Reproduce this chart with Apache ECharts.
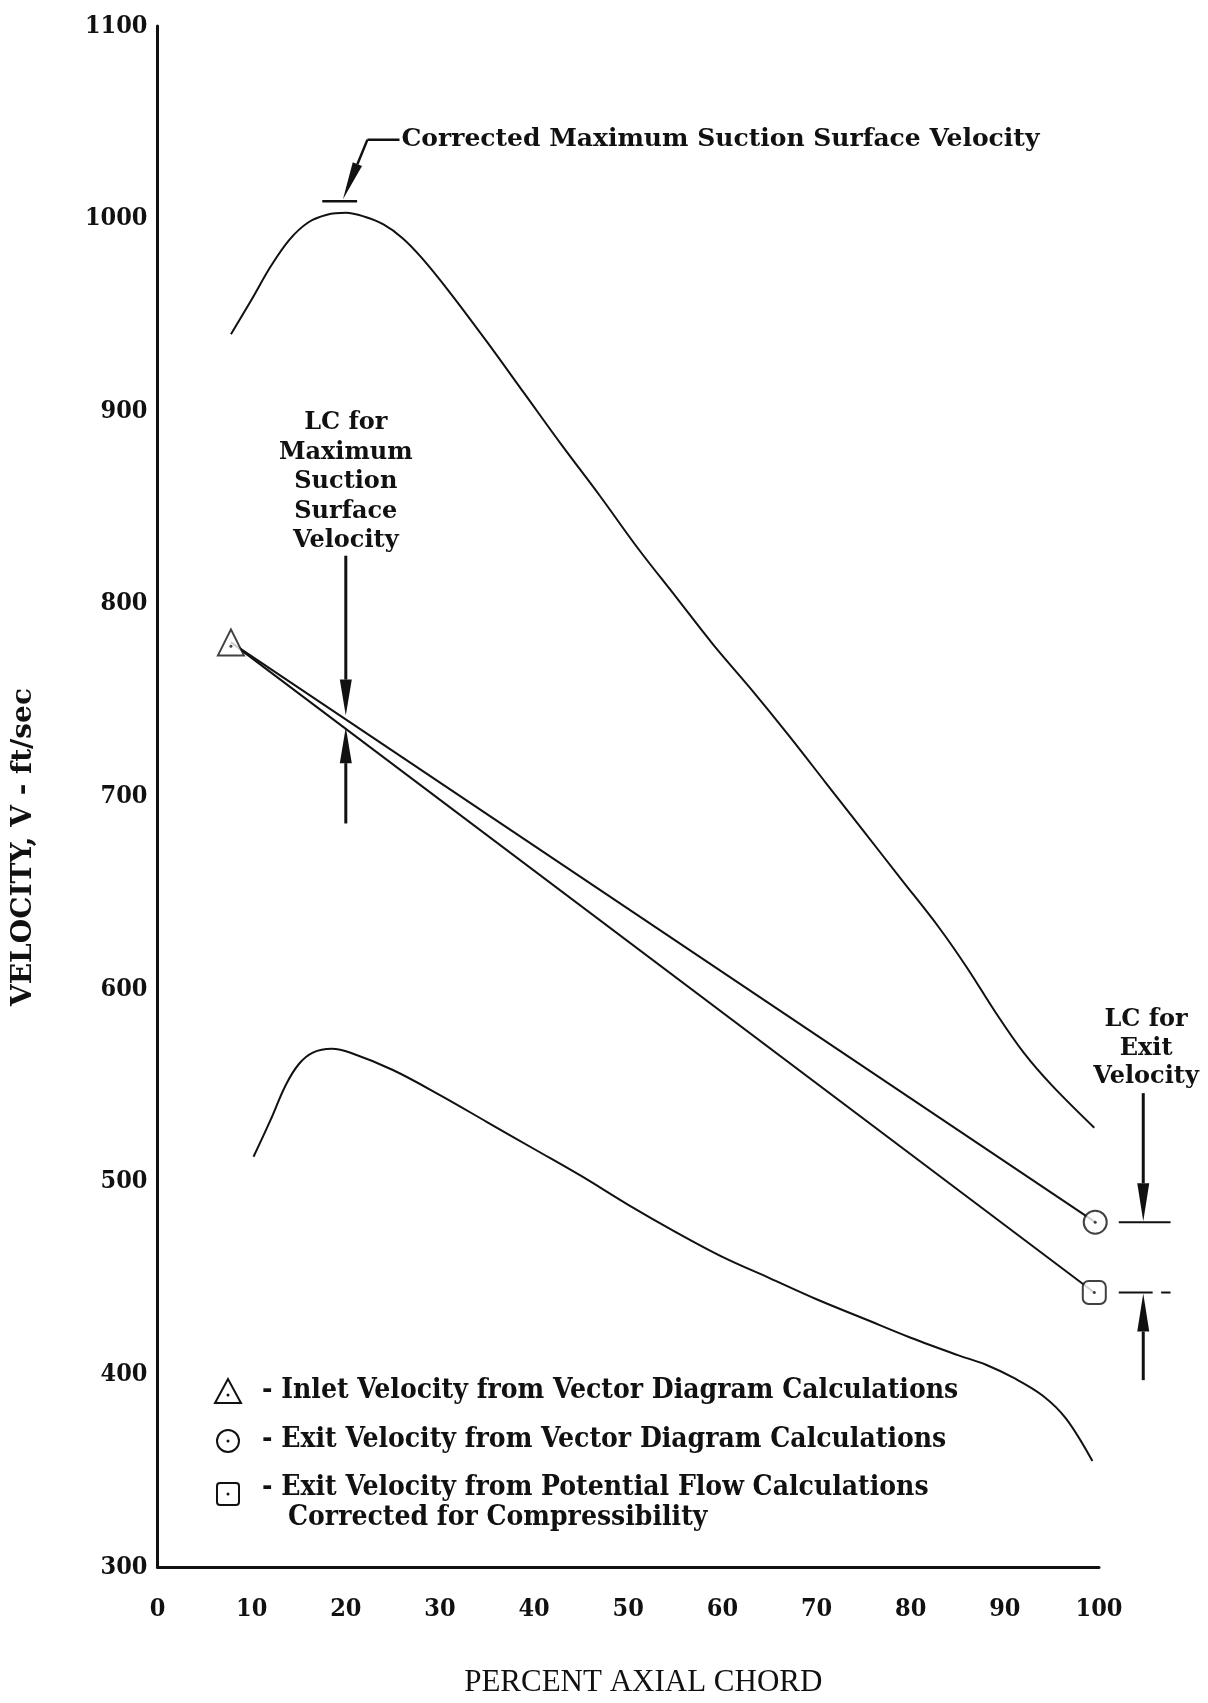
<!DOCTYPE html>
<html>
<head>
<meta charset="utf-8">
<script src="https://cdn.jsdelivr.net/npm/echarts@6/dist/echarts.min.js"></script>
<style>
  html, body { margin: 0; padding: 0; background: #ffffff; }
  #chart { width: 1208px; height: 1703px; }
</style>
</head>
<body>
<div id="chart"></div>
<script>
// Percent axial chord (x) vs. velocity in ft/sec (y)

// Maximum suction surface velocity distribution
const suctionSurface = [
  [7.8, 940], [10, 958], [12, 975], [14, 989], [16, 998], [18, 1002], [20, 1003],
  [22, 1001], [24, 997], [26, 990], [28, 980], [31, 962], [35, 936], [39, 909],
  [43, 882], [47, 856], [51, 829], [55, 804], [59, 779], [63, 756], [67, 732],
  [71, 707], [75, 682], [79, 657], [83, 632], [86, 611], [89, 588], [92, 567],
  [95, 550], [99.5, 528]
];

// Lower velocity distribution
const lowerSurface = [
  [10.2, 513], [12, 532], [13.6, 550], [15, 561], [16.5, 567], [18.5, 569],
  [20.5, 567], [25, 558], [30, 545], [35, 531], [40, 517], [45, 503], [50, 488],
  [55, 474], [60, 461], [65, 450], [70, 439], [75, 429], [80, 419], [85, 410],
  [88, 405], [91, 398], [94, 389], [96.5, 377], [99.3, 355]
];

// Computed points
const inletVector = [7.8, 780];      // inlet velocity, vector diagram
const exitVector = [99.6, 479];      // exit velocity, vector diagram
const exitPotential = [99.5, 442.5]; // exit velocity, potential flow corrected

// Corrected maximum suction surface velocity
const correctedMaxVelocity = 1009;

const xTickValues = [0, 10, 20, 30, 40, 50, 60, 70, 80, 90, 100];
const yTickValues = [300, 400, 500, 600, 700, 800, 900, 1000, 1100];

const legendLabels = [
  '- Inlet Velocity from Vector Diagram Calculations',
  '- Exit Velocity from Vector Diagram Calculations',
  '- Exit Velocity from Potential Flow Calculations',
  'Corrected for Compressibility'
];

const COND_SERIF = '"DejaVu Serif Condensed", "DejaVu Serif", serif';
const WIDE_SERIF = '"DejaVu Serif", serif';
const INK = '#111111';

const chart = echarts.init(document.getElementById('chart'), null, { renderer: 'canvas' });

// Straight arrow from a to b (pixel points), returns shaft + head
function arrowShapes(a, b, headLen, headHalf, width) {
  const dx = b[0] - a[0], dy = b[1] - a[1];
  const len = Math.sqrt(dx * dx + dy * dy);
  const ux = dx / len, uy = dy / len;
  const base = [b[0] - ux * headLen, b[1] - uy * headLen];
  const nx = -uy, ny = ux;
  return [
    { type: 'line', shape: { x1: a[0], y1: a[1], x2: base[0], y2: base[1] },
      style: { stroke: INK, lineWidth: width } },
    { type: 'polygon', shape: { points: [
        [b[0], b[1]],
        [base[0] + nx * headHalf, base[1] + ny * headHalf],
        [base[0] - nx * headHalf, base[1] - ny * headHalf]
      ] }, style: { fill: INK } }
  ];
}

function renderNotes(params, api) {
  const c = (x, y) => api.coord([x, y]);
  const kids = [];
  const seg = (p, q, w) => kids.push({
    type: 'line', shape: { x1: p[0], y1: p[1], x2: q[0], y2: q[1] },
    style: { stroke: INK, lineWidth: w }
  });
  const label = (p, str, opts) => kids.push({
    type: 'text',
    style: Object.assign({
      x: p[0], y: p[1], text: str, fill: INK,
      font: 'bold 24px ' + WIDE_SERIF,
      align: 'center', verticalAlign: 'middle'
    }, opts || {})
  });

  // Corrected maximum suction surface velocity callout
  const bar0 = c(17.5, correctedMaxVelocity), bar1 = c(21.2, correctedMaxVelocity);
  seg(bar0, bar1, 2.5);
  const tStart = c(25.7, 1041), elbow = c(22.3, 1041), tip = c(19.7, correctedMaxVelocity + 1);
  seg(tStart, elbow, 2.5);
  kids.push.apply(kids, arrowShapes(elbow, tip, 38, 5, 2.5));
  label([tStart[0] + 2, tStart[1]], 'Corrected Maximum Suction Surface Velocity',
    { align: 'left', font: 'bold 25px ' + WIDE_SERIF });

  // LC for maximum suction surface velocity
  const lcTop = c(20, 894);
  ['LC for', 'Maximum', 'Suction', 'Surface', 'Velocity'].forEach((s, i) => {
    label([lcTop[0], lcTop[1] + i * 29.5], s);
  });
  kids.push.apply(kids, arrowShapes(c(20, 825), c(20, 742), 36, 6, 3));
  kids.push.apply(kids, arrowShapes(c(20, 686), c(20, 736), 36, 6, 3));

  // LC for exit velocity
  const exTop = c(105, 584);
  ['LC for', 'Exit', 'Velocity'].forEach((s, i) => {
    label([exTop[0], exTop[1] + i * 28.5], s);
  });
  seg(c(102.1, exitVector[1]), c(107.6, exitVector[1]), 2);
  seg(c(102.1, exitPotential[1]), c(105.7, exitPotential[1]), 2);
  seg(c(106.6, exitPotential[1]), c(107.6, exitPotential[1]), 2);
  kids.push.apply(kids, arrowShapes(c(104.7, 546), c(104.7, exitVector[1] + 0.5), 38, 6, 3));
  kids.push.apply(kids, arrowShapes(c(104.7, 397), c(104.7, exitPotential[1] - 0.5), 38, 6, 3));

  return { type: 'group', children: kids };
}

const hollow = { color: '#ffffff', borderColor: INK, borderWidth: 2 };
const legendFont = 'bold 28px ' + COND_SERIF;

chart.setOption({
  animation: false,
  backgroundColor: '#ffffff',
  grid: { left: 157.5, right: 109, top: 26, bottom: 133, containLabel: false },
  xAxis: {
    type: 'value', min: 0, max: 100, interval: 10,
    axisLine: { show: true, onZero: false, lineStyle: { color: INK, width: 3 } },
    axisTick: { show: false },
    splitLine: { show: false },
    axisLabel: {
      color: INK, fontFamily: COND_SERIF, fontWeight: 'bold', fontSize: 25, margin: 30,
      customValues: xTickValues, formatter: v => String(v)
    },
    name: 'PERCENT AXIAL CHORD',
    nameLocation: 'middle', nameGap: 100,
    nameTextStyle: { color: INK, fontFamily: '"Liberation Serif", "Times New Roman", serif',
      fontSize: 31, padding: [0, 0, 0, 30] }
  },
  yAxis: {
    type: 'value', min: 300, max: 1100, interval: 100,
    axisLine: { show: true, onZero: false, lineStyle: { color: INK, width: 3 } },
    axisTick: { show: false },
    splitLine: { show: false },
    axisLabel: {
      color: INK, fontFamily: COND_SERIF, fontWeight: 'bold', fontSize: 25, margin: 10,
      customValues: yTickValues, formatter: v => String(v)
    }
  },
  series: [
    {
      name: 'Maximum suction surface velocity', type: 'line', data: suctionSurface,
      smooth: 0.35, showSymbol: false, lineStyle: { color: INK, width: 2 }
    },
    {
      name: 'Lower surface velocity', type: 'line', data: lowerSurface,
      smooth: 0.35, showSymbol: false, lineStyle: { color: INK, width: 2 }
    },
    {
      name: 'Vector diagram line', type: 'line', data: [inletVector, exitVector],
      showSymbol: false, lineStyle: { color: INK, width: 2 }
    },
    {
      name: 'Potential flow line', type: 'line', data: [inletVector, exitPotential],
      showSymbol: false, lineStyle: { color: INK, width: 2 }
    },
    {
      name: 'Inlet', type: 'scatter', data: [inletVector], symbol: 'triangle',
      symbolSize: 26, itemStyle: hollow, z: 5
    },
    {
      name: 'Exit vector', type: 'scatter', data: [exitVector], symbol: 'circle',
      symbolSize: 23, itemStyle: hollow, z: 5
    },
    {
      name: 'Exit potential', type: 'scatter', data: [exitPotential], symbol: 'roundRect',
      symbolSize: 23, itemStyle: hollow, z: 5
    },
    {
      name: 'Centre dots', type: 'scatter',
      data: [[inletVector[0], inletVector[1] - 2], exitVector, exitPotential],
      symbol: 'circle', symbolSize: 3, itemStyle: { color: INK }, z: 6
    },
    {
      name: 'Notes', type: 'custom', data: [[0, 0]], renderItem: renderNotes,
      silent: true, clip: false, z: 4
    }
  ],
  graphic: [
    // Vertical axis title
    { type: 'text', x: 24, y: 847, rotation: Math.PI / 2,
      style: { text: 'VELOCITY, V - ft/sec', fill: INK, font: 'bold 28px ' + WIDE_SERIF,
        align: 'center', verticalAlign: 'middle' } },
    // Key to the plotted symbols
    { type: 'polygon', shape: { points: [[228, 1379], [215, 1403], [241, 1403]] },
      style: { fill: '#fff', stroke: INK, lineWidth: 2 } },
    { type: 'circle', shape: { cx: 228, cy: 1395, r: 1.5 }, style: { fill: INK } },
    { type: 'circle', shape: { cx: 228, cy: 1441, r: 11 },
      style: { fill: '#fff', stroke: INK, lineWidth: 2 } },
    { type: 'circle', shape: { cx: 228, cy: 1441, r: 1.5 }, style: { fill: INK } },
    { type: 'rect', shape: { x: 217, y: 1483, width: 22, height: 22, r: 3 },
      style: { fill: '#fff', stroke: INK, lineWidth: 2 } },
    { type: 'circle', shape: { cx: 228, cy: 1494, r: 1.5 }, style: { fill: INK } },
    { type: 'text', x: 262, y: 1391, style: { text: legendLabels[0], fill: INK,
      font: legendFont, verticalAlign: 'middle' } },
    { type: 'text', x: 262, y: 1440, style: { text: legendLabels[1], fill: INK,
      font: legendFont, verticalAlign: 'middle' } },
    { type: 'text', x: 262, y: 1488, style: { text: legendLabels[2], fill: INK,
      font: legendFont, verticalAlign: 'middle' } },
    { type: 'text', x: 288, y: 1518, style: { text: legendLabels[3], fill: INK,
      font: legendFont, verticalAlign: 'middle' } }
  ]
});
</script>
</body>
</html>
